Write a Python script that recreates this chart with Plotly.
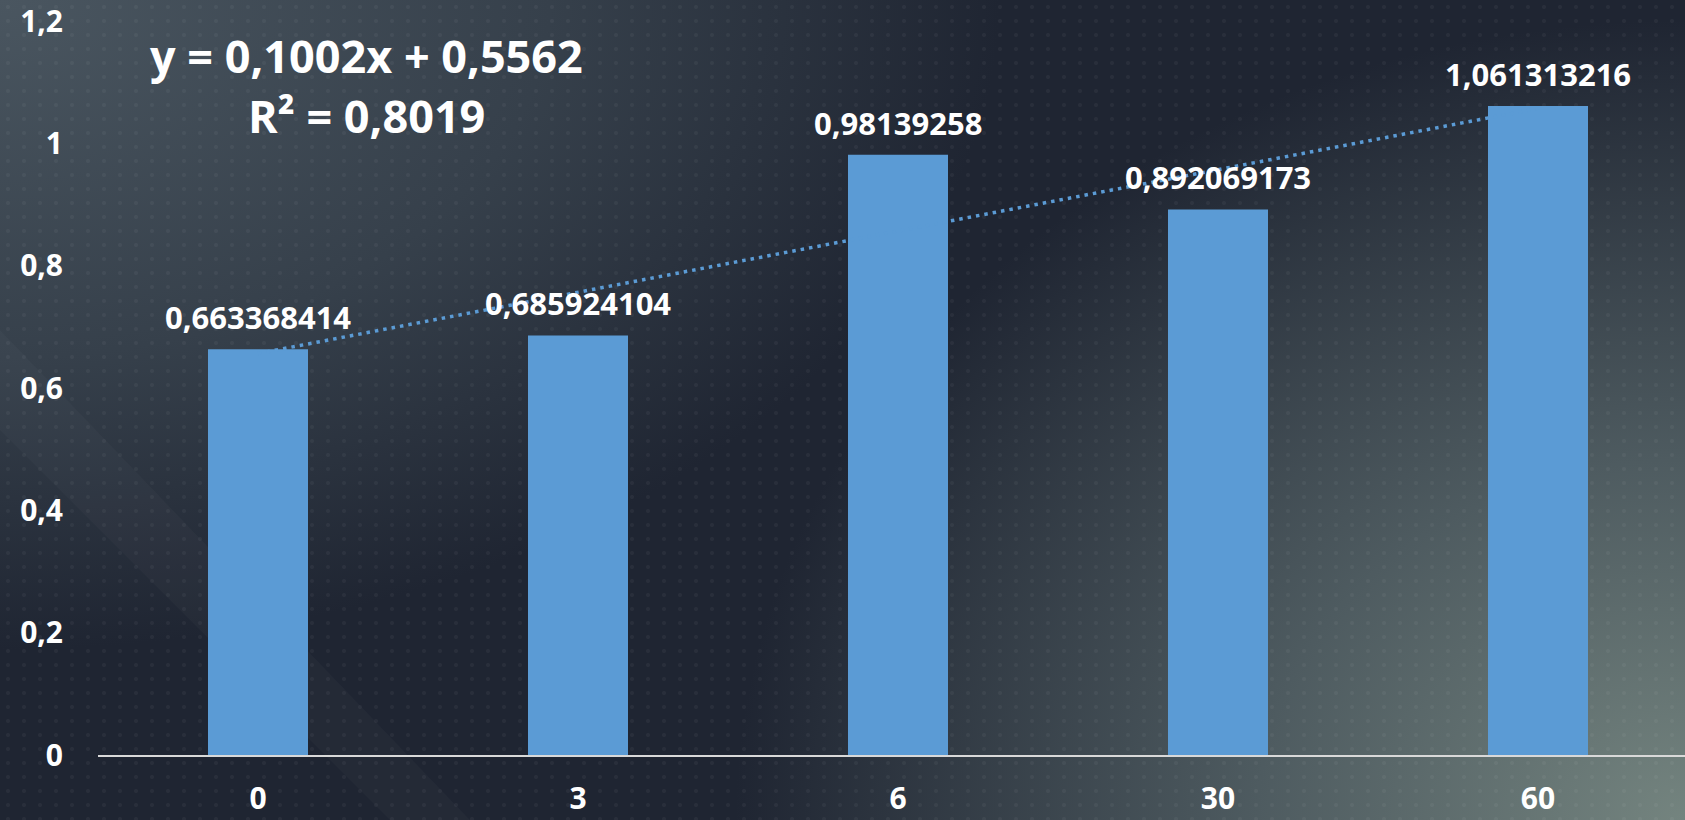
import base64
import numpy as np
import plotly.graph_objects as go

# ---- data ----
categories = ["0", "3", "6", "30", "60"]
values = [0.663368414, 0.685924104, 0.98139258, 0.892069173, 1.061313216]
y_tickvals = [0, 0.2, 0.4, 0.6, 0.8, 1.0, 1.2]
y_ticktext = ["0", "0,2", "0,4", "0,6", "0,8", "1", "1,2"]
equation_lines = ["y = 0,1002x + 0,5562", "R² = 0,8019"]

# linear trendline fitted on the series (Excel-style x = 1..n)
xi = np.arange(1, len(values) + 1)
slope, intercept = np.polyfit(xi, values, 1)
trend = list(slope * xi + intercept)

W, H = 1685, 820
ML, MR, MT, MB = 98, 0, 21, 65
PW, PH = W - ML - MR, H - MT - MB

BAR = "#5B9BD5"
FONT = "Open Sans"

svg = f"""<svg xmlns="http://www.w3.org/2000/svg" width="{W}" height="{H}" viewBox="0 0 {W} {H}">
<defs>
<radialGradient id="g1" cx="0" cy="0" r="1" gradientUnits="userSpaceOnUse" gradientTransform="translate(0,0) scale(1000,650)">
<stop offset="0" stop-color="#4a5660"/>
<stop offset="0.55" stop-color="#36404b"/>
<stop offset="1" stop-color="#36404b" stop-opacity="0"/>
</radialGradient>
<radialGradient id="g2" cx="0" cy="0" r="1" gradientUnits="userSpaceOnUse" gradientTransform="translate({W},{H}) scale(950,800)">
<stop offset="0" stop-color="#74847f"/>
<stop offset="0.45" stop-color="#4e5b60"/>
<stop offset="1" stop-color="#4e5b60" stop-opacity="0"/>
</radialGradient>
<pattern id="dots" width="16" height="14" patternUnits="userSpaceOnUse">
<circle cx="8" cy="7" r="2" fill="#ffffff" fill-opacity="0.045"/>
</pattern>
</defs>
<rect width="{W}" height="{H}" fill="#1f2532"/>
<rect width="{W}" height="{H}" fill="url(#g1)"/>
<rect width="{W}" height="{H}" fill="url(#g2)"/>
<polygon points="0,330 0,430 390,{H} 470,{H}" fill="#ffffff" fill-opacity="0.025"/>
<rect width="{W}" height="{H}" fill="url(#dots)"/>
</svg>"""
bg_src = "data:image/svg+xml;base64," + base64.b64encode(svg.encode()).decode()

fig = go.Figure()

# trendline first so that bars are drawn over it
fig.add_trace(go.Scatter(
    x=categories, y=trend, mode="lines",
    line=dict(color=BAR, width=3.5, dash="3.5px,5px"),
    hoverinfo="skip", showlegend=False,
))

fig.add_trace(go.Bar(
    x=categories, y=values, marker=dict(color=BAR, line=dict(width=0)),
    showlegend=False,
))

# data labels (category index positions)
for i, v in enumerate(values):
    fig.add_annotation(
        x=i, y=v, xref="x", yref="y", text=str(v).replace(".", ","),
        showarrow=False, yanchor="middle", yshift=32,
        font=dict(family=FONT, size=31, color="white", weight="bold"),
    )

# equation (two centred lines)
eq_centers_y = [55, 116]
for line, cy in zip(equation_lines, eq_centers_y):
    fig.add_annotation(
        xref="paper", yref="paper",
        x=(366 - ML) / PW, y=(H - MB - cy) / PH,
        text=line, showarrow=False, align="center",
        xanchor="center", yanchor="middle",
        font=dict(family=FONT, size=45, color="white", weight="bold"),
    )

fig.add_layout_image(
    source=bg_src, xref="paper", yref="paper",
    x=-ML / PW, y=1 + MT / PH, sizex=W / PW, sizey=H / PH,
    xanchor="left", yanchor="top", sizing="stretch", layer="below",
)

fig.update_layout(
    width=W, height=H,
    margin=dict(l=ML, r=MR, t=MT, b=MB, pad=0, autoexpand=False),
    paper_bgcolor="#1f2532", plot_bgcolor="rgba(0,0,0,0)",
    bargap=0.6875,
    font=dict(family=FONT, color="white"),
    showlegend=False,
)
fig.update_xaxes(
    type="category", range=[-0.5, -0.5 + PW / 320],
    showline=True, linecolor="#d9d9d9", linewidth=2,
    showgrid=False, zeroline=False, ticks="", automargin=False,
    tickfont=dict(family=FONT, size=30, color="white", weight="bold"),
    ticklabelstandoff=16, ticklabeloverflow="allow",
)
fig.update_yaxes(
    range=[0, 1.2001], tickvals=y_tickvals, ticktext=y_ticktext,
    showline=False, showgrid=False, zeroline=False, ticks="", automargin=False,
    tickfont=dict(family=FONT, size=30, color="white", weight="bold"),
    ticklabelstandoff=34, ticklabeloverflow="allow",
)

fig.write_html("out.html")
